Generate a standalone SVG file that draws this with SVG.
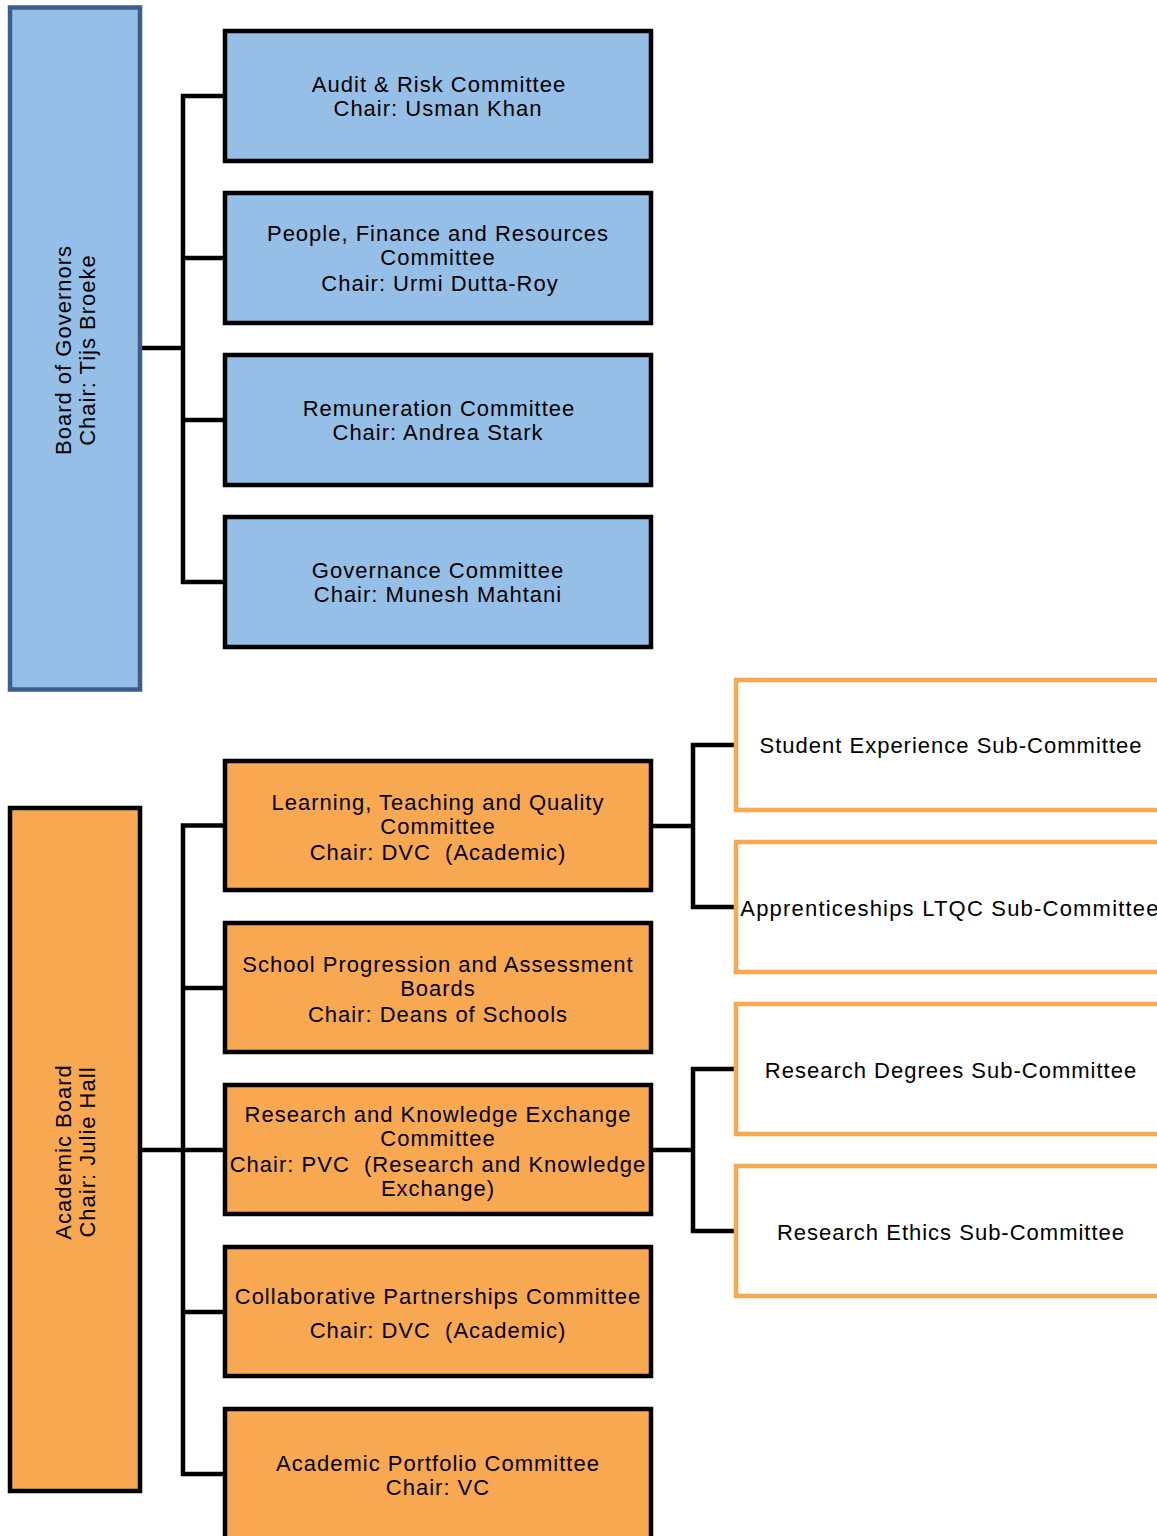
<svg xmlns="http://www.w3.org/2000/svg" width="1157" height="1536" viewBox="0 0 1157 1536">
<style>
.t{font-family:"Liberation Sans",Arial,sans-serif;font-size:22px;letter-spacing:1px;fill:#000;text-anchor:middle;white-space:pre}
.blue{fill:#95bfe7;stroke:#000;stroke-width:4.5}
.board{fill:#95bfe7;stroke:#3b5e8c;stroke-width:4.5}
.org{fill:#f8a851;stroke:#000;stroke-width:4.5}
.sub{fill:#fff;stroke:#f8a851;stroke-width:4.5}
.c{fill:none;stroke:#000;stroke-width:4.5;stroke-linejoin:miter}
</style>
<rect width="1157" height="1536" fill="#fff"/>
<g id="connectors">
<path class="c" d="M225,96 H183 V582 H225 M183,258 H225 M183,420 H225 M140,348 H183"/>
<path class="c" d="M225,825.5 H183 V1474 H225 M183,988 H225 M183,1150 H225 M183,1312 H225 M140,1150 H183"/>
<path class="c" d="M736,745 H693 V907 H736 M651,826 H693"/>
<path class="c" d="M736,1069 H693 V1231 H736 M651,1150 H693"/>
</g>
<g id="board-governors">
<rect class="board" x="10" y="7.5" width="130" height="682"/>
<text class="t" transform="rotate(-90)" x="-350" y="71">Board of Governors</text>
<text class="t" transform="rotate(-90)" x="-350" y="95">Chair: Tijs Broeke</text>
</g>
<g id="audit">
<rect class="blue" x="225" y="31" width="426" height="130"/>
<text class="t" x="439" y="92">Audit &amp; Risk Committee</text>
<text class="t" x="438" y="116">Chair: Usman Khan</text>
</g>
<g id="pfr">
<rect class="blue" x="225" y="193" width="426" height="130"/>
<text class="t" x="438" y="241">People, Finance and Resources</text>
<text class="t" x="438" y="265">Committee</text>
<text class="t" x="440" y="291">Chair: Urmi Dutta-Roy</text>
</g>
<g id="remuneration">
<rect class="blue" x="225" y="355" width="426" height="130"/>
<text class="t" x="439" y="416">Remuneration Committee</text>
<text class="t" x="438" y="440">Chair: Andrea Stark</text>
</g>
<g id="governance">
<rect class="blue" x="225" y="517" width="426" height="130"/>
<text class="t" x="438" y="578">Governance Committee</text>
<text class="t" x="438" y="602">Chair: Munesh Mahtani</text>
</g>
<g id="academic-board">
<rect class="org" x="10" y="808" width="130" height="683"/>
<text class="t" transform="rotate(-90)" x="-1152" y="71">Academic Board</text>
<text class="t" transform="rotate(-90)" x="-1152" y="95">Chair: Julie Hall</text>
</g>
<g id="ltqc">
<rect class="org" x="225" y="761" width="426" height="129"/>
<text class="t" x="438" y="810">Learning, Teaching and Quality</text>
<text class="t" x="438" y="834">Committee</text>
<text class="t" x="438" y="860" xml:space="preserve">Chair: DVC  (Academic)</text>
</g>
<g id="spab">
<rect class="org" x="225" y="923" width="426" height="129"/>
<text class="t" x="438" y="972">School Progression and Assessment</text>
<text class="t" x="438" y="996">Boards</text>
<text class="t" x="438" y="1022">Chair: Deans of Schools</text>
</g>
<g id="rke">
<rect class="org" x="225" y="1085" width="426" height="129"/>
<text class="t" x="438" y="1122">Research and Knowledge Exchange</text>
<text class="t" x="438" y="1146">Committee</text>
<text class="t" x="438" y="1172" xml:space="preserve">Chair: PVC  (Research and Knowledge</text>
<text class="t" x="438" y="1196">Exchange)</text>
</g>
<g id="collab">
<rect class="org" x="225" y="1247" width="426" height="129"/>
<text class="t" x="438" y="1304">Collaborative Partnerships Committee</text>
<text class="t" x="438" y="1338" xml:space="preserve">Chair: DVC  (Academic)</text>
</g>
<g id="portfolio">
<rect class="org" x="225" y="1409" width="426" height="140"/>
<text class="t" x="438" y="1471">Academic Portfolio Committee</text>
<text class="t" x="438" y="1495">Chair: VC</text>
</g>
<g id="student-exp">
<rect class="sub" x="736" y="680" width="430" height="130"/>
<text class="t" x="951" y="753">Student Experience Sub-Committee</text>
</g>
<g id="apprenticeships">
<rect class="sub" x="736" y="842" width="430" height="130"/>
<text class="t" x="950" y="916" style="letter-spacing:1.2px">Apprenticeships LTQC Sub-Committee</text>
</g>
<g id="research-degrees">
<rect class="sub" x="736" y="1004" width="430" height="130"/>
<text class="t" x="951" y="1078">Research Degrees Sub-Committee</text>
</g>
<g id="research-ethics">
<rect class="sub" x="736" y="1166" width="430" height="130"/>
<text class="t" x="951" y="1240">Research Ethics Sub-Committee</text>
</g>
</svg>
